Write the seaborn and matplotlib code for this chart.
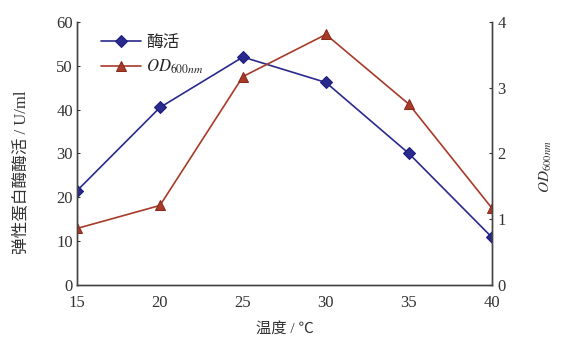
import numpy as np
import pandas as pd
import seaborn as sns
import matplotlib.pyplot as plt

# temperature (C)
temps = [15, 20, 25, 30, 35, 40]
# enzyme activity (U/ml), left axis
enzyme = [21.5, 40.5, 52.0, 46.2, 30.0, 10.9]
# OD600nm, right axis
od = [0.86, 1.21, 3.17, 3.81, 2.75, 1.17]

df = pd.DataFrame({"temp": temps, "enzyme": enzyme, "od": od})

sns.set_theme(style="white")
plt.rcParams["font.family"] = ["Liberation Serif", "Noto Sans CJK SC", "DejaVu Sans"]
plt.rcParams["mathtext.fontset"] = "stix"

fig = plt.figure(figsize=(5.66, 3.43), dpi=100)
ax = fig.add_axes([0.136, 0.169, 0.733, 0.767])
ax2 = ax.twinx()

blue = "#2a2a8c"
red = "#a83a2a"

sns.lineplot(data=df, x="temp", y="enzyme", ax=ax, color=blue, marker="D",
             markersize=6.5, markeredgecolor="#1a1a80", linewidth=1.2, label="酶活",
             legend=False)
sns.lineplot(data=df, x="temp", y="od", ax=ax2, color=red, marker="^",
             markersize=7.5, markeredgecolor="#8a2a1a", linewidth=1.2,
             label=r"$OD_{600nm}$", legend=False)

ax.set_xlim(15, 40)
ax.set_ylim(0, 60)
ax2.set_ylim(0, 4)
ax.set_xticks(temps)
ax.set_yticks(range(0, 61, 10))
ax2.set_yticks(range(0, 5))

for a in (ax, ax2):
    a.spines["top"].set_visible(False)
    for s in a.spines.values():
        s.set_color("#444444")
        s.set_linewidth(1.0)
    a.tick_params(direction="in", length=2.5, width=0.8, colors="#333333",
                  labelsize=12, pad=2)
ax.tick_params(axis="x", pad=7)
ax.tick_params(axis="y", pad=3)
ax2.tick_params(axis="y", pad=4)

ax.set_xlabel("温度 / ℃", fontsize=11, color="#333333", labelpad=8)
ax.set_ylabel("弹性蛋白酶酶活 / U/ml", fontsize=12, color="#333333")
ax.yaxis.set_label_coords(-0.115, 0.43)
ax2.set_ylabel(r"$OD_{600nm}$", fontsize=11, color="#333333")
ax2.yaxis.set_label_coords(1.11, 0.45)

h1, l1 = ax.get_legend_handles_labels()
h2, l2 = ax2.get_legend_handles_labels()
ax.legend(h1 + h2, l1 + l2, loc="upper left", bbox_to_anchor=(0.035, 0.99),
          frameon=False, fontsize=12, handlelength=2.4, borderaxespad=0.2,
          labelspacing=0.45, handletextpad=0.3)

fig.savefig("out.png", dpi=100)
